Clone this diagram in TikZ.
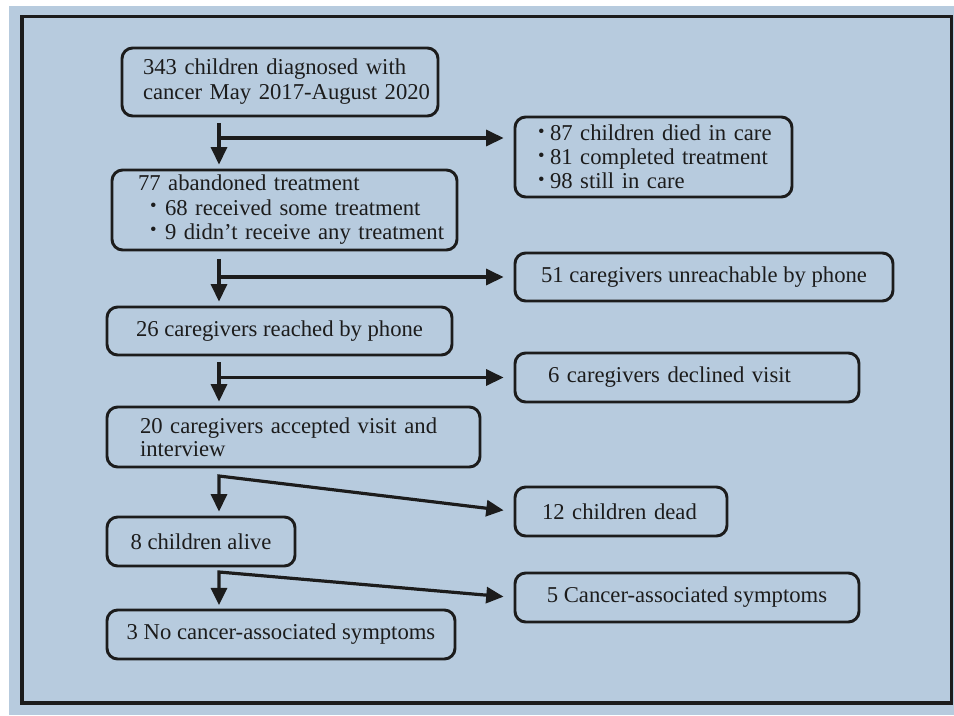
\documentclass[tikz,border=0pt]{standalone}
\usepackage{fontspec}
\setmainfont{Liberation Serif}
\usetikzlibrary{arrows.meta}
\definecolor{bg}{RGB}{183,203,222}
\definecolor{ink}{RGB}{28,28,28}
\newcommand{\mybul}{\makebox[9pt][l]{\raisebox{2.5pt}{\fontsize{14}{14}\selectfont\textbullet}}}
\newcommand{\mybulb}{\makebox[11.25pt][l]{\raisebox{3pt}{\fontsize{14}{14}\selectfont\textbullet}}}
\begin{document}
\begin{tikzpicture}[x=0.75pt,y=-0.75pt,
  box/.style={draw=ink, line width=2.2pt, rounded corners=8pt, inner ysep=0pt, text=ink,
    font=\fontsize{17}{18.75}\selectfont},
  lbox/.style={box, align=left},
  cbox/.style={box, align=center},
  arr/.style={draw=ink, line width=2.4pt, -{Triangle[length=13pt,width=12pt]}},
  darr/.style={draw=ink, line width=2.4pt, {Triangle[length=13pt,width=12pt]}-{Triangle[length=13pt,width=12pt]}}]
\useasboundingbox (0,0) rectangle (954,715);
\fill[bg] (9,6) rectangle (954,715);
\draw[ink, line width=2.8pt] (22,16.5) rectangle (951.5,703);

\node[lbox, text width=205.5pt, inner xsep=15.75pt, minimum height=51pt] (b1) at (280,82)
  {\mbox{343 children diagnosed with}\\\mbox{cancer May 2017-August 2020}};
\node[lbox, text width=173.25pt, inner xsep=17.25pt, minimum height=60pt,
  font=\fontsize{17}{18}\selectfont] (b2) at (653.5,157)
  {\mbox{\mybul 87 children died in care}\\\mbox{\mybul 81 completed treatment}\\\mbox{\mybul 98 still in care}};
\node[lbox, text width=219.75pt, inner xsep=19.5pt, minimum height=60pt,
  font=\fontsize{17}{18.4}\selectfont] (b3) at (284.5,210)
  {\mbox{77 abandoned treatment}\\\mbox{\hspace*{9pt}\mybulb 68 received some treatment}\\\mbox{\hspace*{9pt}\mybulb 9 didn’t receive any treatment}};
\node[cbox, minimum width=283.5pt, minimum height=36pt] (b4) at (704,277)
  {51 caregivers unreachable by phone};
\node[cbox, minimum width=258.75pt, minimum height=36pt] (b5) at (279.5,331)
  {26 caregivers reached by phone};
\node[lbox, text width=208.5pt, inner xsep=24.75pt, minimum height=36.75pt] (b6) at (687,377.5)
  {\mbox{6 caregivers declined visit}};
\node[lbox, text width=230.25pt, inner xsep=24.75pt, minimum height=45pt,
  font=\fontsize{17}{17.25}\selectfont] (b7) at (293.5,437)
  {\mbox{20 caregivers accepted visit and}\\\mbox{interview}};
\node[lbox, text width=118.5pt, inner xsep=20.25pt, minimum height=36.75pt] (b8) at (621,511.5)
  {\mbox{12 children dead}};
\node[cbox, minimum width=141pt, minimum height=36.75pt] (b9) at (201,541.5)
  {8 children alive};
\node[cbox, minimum width=258pt, minimum height=36.75pt] (b10) at (687,597.5)
  {5 Cancer-associated symptoms};
\node[cbox, minimum width=261pt, minimum height=36.75pt] (b11) at (281,634.5)
  {3 No cancer-associated symptoms};

\coordinate (t1) at (219,0);
\coordinate (j1) at (219,138);
\coordinate (k4) at (219,476);
\coordinate (k5) at (219,572);

\draw[arr, shorten <=4.5pt, shorten >=3pt] (b1.south -| t1) -- (b3.north -| t1);
\draw[arr, shorten >=7.5pt] (j1) -- (j1 -| b2.west);
\draw[arr, shorten <=5.5pt, shorten >=3pt] (b3.south -| t1) -- (b5.north -| t1);
\draw[arr, shorten >=7.5pt] (t1 |- b4.west) -- (b4.west);
\draw[arr, shorten <=4.5pt, shorten >=3pt] (b5.south -| t1) -- (b7.north -| t1);
\draw[arr, shorten >=7.5pt] (t1 |- b6.west) -- (b6.west);
\draw[darr, shorten <=3pt, shorten >=7.5pt] (b9.north -| t1) -- (k4) -- (b8.west);
\draw[darr, shorten <=2.5pt, shorten >=7.5pt] (b11.north -| t1) -- (k5) -- (b10.west);
\end{tikzpicture}
\end{document}
